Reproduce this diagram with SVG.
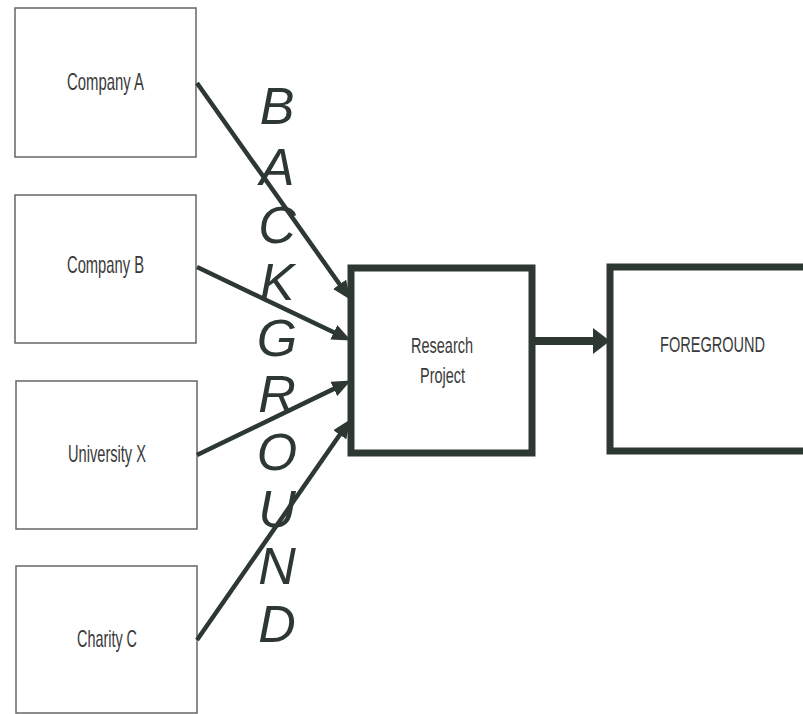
<svg xmlns="http://www.w3.org/2000/svg" width="803" height="714" viewBox="0 0 803 714">
<defs>
<style>
.src{fill:#fff;stroke:#666;stroke-width:1.5}
.big{fill:#fff;stroke:#2e3833;stroke-width:7}
.lbl{font-family:"Liberation Sans",Arial,sans-serif;font-size:24px;fill:#3a3a3a;text-anchor:middle}
.lbl2{font-family:"Liberation Sans",Arial,sans-serif;font-size:22px;fill:#3a3a3a;text-anchor:middle}
.conn{stroke:#2e3833;stroke-width:4.5;fill:none}
.bg{font-family:"Liberation Sans",Arial,sans-serif;font-size:52px;font-style:italic;fill:#2e3833;text-anchor:middle}
</style>
<marker id="ah" markerUnits="userSpaceOnUse" markerWidth="20" markerHeight="16" refX="8" refY="8" orient="auto">
<path d="M0,0 L19,8 L0,16 Z" fill="#2e3833"/>
</marker>
<marker id="ah2" markerUnits="userSpaceOnUse" markerWidth="20" markerHeight="26" refX="6" refY="13" orient="auto">
<path d="M0,0 L17,13 L0,26 Z" fill="#2e3833"/>
</marker>
</defs>
<rect width="803" height="714" fill="#fff"/>
<g id="companyA"><rect class="src" x="15" y="8" width="181" height="149"/><text class="lbl" x="105.5" y="90" textLength="77" lengthAdjust="spacingAndGlyphs">Company A</text></g>
<g id="companyB"><rect class="src" x="15" y="195" width="181" height="148"/><text class="lbl" x="105.5" y="273" textLength="77" lengthAdjust="spacingAndGlyphs">Company B</text></g>
<g id="universityX"><rect class="src" x="16" y="381" width="181" height="148"/><text class="lbl" x="107" y="462" textLength="78" lengthAdjust="spacingAndGlyphs">University X</text></g>
<g id="charityC"><rect class="src" x="16" y="566" width="181" height="147"/><text class="lbl" x="107" y="647" textLength="60" lengthAdjust="spacingAndGlyphs">Charity C</text></g>
<g id="research"><rect class="big" x="351" y="268" width="181" height="185"/><text class="lbl2" x="442" y="353" textLength="62" lengthAdjust="spacingAndGlyphs">Research</text><text class="lbl2" x="442.5" y="383" textLength="45" lengthAdjust="spacingAndGlyphs">Project</text></g>
<g id="foreground"><rect class="big" x="610" y="267" width="220" height="184"/><text class="lbl2" x="712.5" y="352" textLength="105" lengthAdjust="spacingAndGlyphs">FOREGROUND</text></g>
<g id="background-label">
<text class="bg" x="277" y="124">B</text>
<text class="bg" x="277" y="185">A</text>
<text class="bg" x="277" y="243">C</text>
<text class="bg" x="277" y="300">K</text>
<text class="bg" x="277" y="356">G</text>
<text class="bg" x="277" y="412">R</text>
<text class="bg" x="277" y="470">O</text>
<text class="bg" x="277" y="527">U</text>
<text class="bg" x="277" y="584">N</text>
<text class="bg" x="277" y="642">D</text>
</g>
<g id="connectors">
<line class="conn" x1="197" y1="83" x2="344.2" y2="290.8" marker-end="url(#ah)"/>
<line class="conn" x1="197" y1="267" x2="341" y2="335.7" marker-end="url(#ah)"/>
<line class="conn" x1="197" y1="455" x2="341" y2="385.4" marker-end="url(#ah)"/>
<line class="conn" x1="197" y1="640" x2="344.3" y2="428.2" marker-end="url(#ah)"/>
<line class="conn" style="stroke-width:8" x1="535" y1="341" x2="599" y2="341" marker-end="url(#ah2)"/>
</g>
</svg>
